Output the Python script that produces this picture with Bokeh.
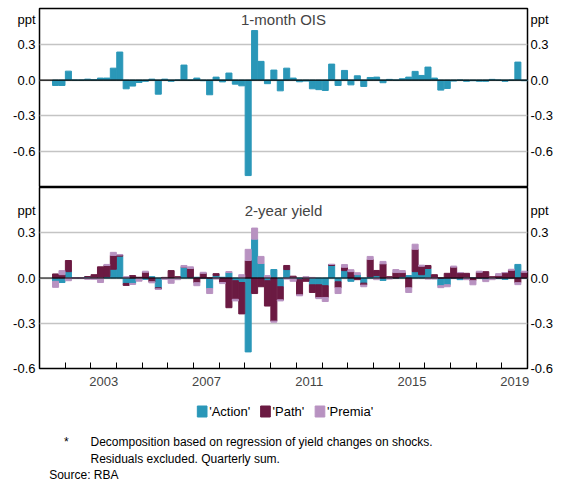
import numpy as np
from bokeh.plotting import figure
from bokeh.layouts import column
from bokeh.models import FixedTicker, Span, Label, Range1d, LinearAxis
from bokeh.core.properties import value
from bokeh.embed import file_html
from bokeh.resources import INLINE

# Quarterly data, 2001Q3 .. 2019Q4
quarters = [2001.625 + 0.25 * i for i in range(74)]

ois_action = [-0.045, -0.045, 0.075, 0, 0, 0.008, 0.003, 0.017, 0.017, 0.1,
              0.235, -0.073, -0.05, -0.02, -0.01, 0.008, -0.118, 0.008, -0.01, 0,
              0.126, 0, 0.017, -0.005, -0.123, 0.025, -0.015, 0.059, -0.034, -0.048,
              -0.8, 0.415, 0.157, -0.03, 0.084, -0.09, 0.1, 0.017, -0.014, -0.008,
              -0.073, -0.08, -0.087, 0.134, -0.045, 0.081, -0.04, 0.036, -0.053, 0.022,
              0.025, -0.022, 0.006, 0, 0.011, 0.025, 0.073, 0.039, 0.109, 0.017,
              -0.084, -0.07, -0.008, 0, -0.01, -0.005, -0.01, -0.01, 0.006, 0,
              -0.01, 0, 0.151, -0.005]

y2_action = [-0.022, -0.03, 0.042, 0, 0, 0.009, 0, 0, 0.009, 0.058,
             0.145, -0.036, -0.036, -0.005, -0.009, 0.009, -0.065, 0, -0.005, 0,
             0.072, 0.005, 0.005, 0, -0.07, 0.016, 0.005, 0.036, -0.018, -0.03,
             -0.49, 0.257, 0.096, -0.018, 0.056, -0.058, 0.056, 0.003, -0.011, 0,
             -0.045, -0.045, -0.051, 0.083, -0.025, 0.049, -0.022, 0.022, -0.034, 0.009,
             0.016, -0.016, 0, 0, 0.009, 0.016, 0.042, 0.022, 0.063, 0,
             -0.051, -0.045, 0, -0.011, 0, 0, 0, -0.011, 0, -0.004,
             -0.009, 0, 0.09, 0]
y2_path = [0.027, 0.022, 0.074, 0, 0, 0, 0.022, 0.074, 0.074, 0.092,
           0.007, -0.013, 0.016, 0.005, 0.038, -0.025, -0.007, 0.004, 0.049, 0.009,
           0, 0.058, -0.031, 0.031, 0, 0.013, -0.03, -0.197, -0.123, -0.208,
           0.116, -0.103, -0.058, -0.168, -0.286, -0.087, 0.027, 0.009, -0.1, -0.022,
           -0.051, -0.085, -0.078, 0.007, -0.04, 0.022, 0.042, -0.011, -0.013, 0.114,
           0.034, 0.094, 0.009, 0.036, 0.027, -0.065, 0.148, 0.056, 0.02, 0.022,
           0, 0.031, 0.072, 0.036, 0.031, -0.018, 0.038, 0.042, 0.009, 0.016,
           0.036, 0.051, -0.031, 0.038]
y2_premia = [-0.04, 0.027, -0.018, 0, 0, -0.009, -0.009, -0.03, 0.007, 0.02,
             0.004, 0.009, -0.007, -0.016, 0.007, -0.007, -0.004, -0.009, -0.03, -0.011,
             0.011, 0.011, -0.02, 0.007, -0.033, -0.007, -0.007, 0.007, -0.011, 0.022,
             0.074, 0.074, 0.047, 0.016, -0.007, -0.007, -0.007, -0.022, -0.007, 0.009,
             0.004, -0.007, -0.027, 0, -0.038, 0.018, 0.013, 0.013, -0.011, 0.02,
             -0.011, 0.016, -0.007, 0.02, 0.013, -0.031, 0.034, 0.007, -0.007, -0.007,
             -0.013, -0.013, 0.007, 0, -0.011, -0.027, 0.007, -0.013, -0.011, 0.013,
             0, 0.007, -0.013, 0.007]

year_labels = ["2003", "2007", "2011", "2015", "2019"]
label_pos = [2003.5, 2007.5, 2011.5, 2015.5, 2019.5]
year_ticks = list(range(2002, 2020))

C_ACT, C_PATH, C_PREM = "#2a97b8", "#6b1a42", "#b892c1"
FONT = "Liberation Sans"
W = 555
BW = 0.235


def style(p, top_ppt):
    ticks = [-0.6, -0.3, 0.0, 0.3]
    p.ygrid.ticker = FixedTicker(ticks=ticks)
    p.ygrid.grid_line_color = "#c4c4c4"
    p.ygrid.grid_line_width = 1.3
    p.xgrid.visible = False
    p.outline_line_color = "black"
    p.outline_line_width = 1.5
    ov = {-0.6: "-0.6", -0.3: "-0.3", 0.0: "0.0", 0.3: "0.3", top_ppt: "ppt"}
    p.yaxis.ticker = FixedTicker(ticks=ticks + [top_ppt])
    p.extra_y_ranges = {"r": p.y_range}
    ax_r = LinearAxis(y_range_name="r", ticker=FixedTicker(ticks=ticks + [top_ppt]))
    p.add_layout(ax_r, "right")
    for ax in p.yaxis:
        ax.major_label_overrides = ov
        ax.major_tick_line_color = None
        ax.minor_tick_line_color = None
        ax.major_tick_out = 0
        ax.major_tick_in = 0
        ax.minor_tick_out = 0
        ax.minor_tick_in = 0
        ax.axis_line_color = None
        ax.axis_label_standoff = 0
        ax.major_label_text_font = FONT
        ax.major_label_text_font_size = "13px"
        ax.major_label_text_color = "black"
        ax.major_label_standoff = 4
    ax_r.major_label_standoff = 3


# Top panel
p1 = figure(width=W, height=187, output_backend="svg", toolbar_location=None,
            x_range=Range1d(2001, 2020), y_range=Range1d(-0.9, 0.6),
            min_border_left=39, min_border_right=0, min_border_top=8, min_border_bottom=0)
style(p1, 0.51)
p1.xaxis.visible = False
p1.vbar(x=quarters, top=ois_action, bottom=0, width=BW, color=C_ACT)
p1.add_layout(Span(location=0, dimension="width", line_color="black", line_width=1.2))
p1.add_layout(Label(x=2010.5, y=0.51, text="1-month OIS", text_align="center",
                    text_baseline="middle", text_font=FONT, text_font_size="15px"))


def stack(parts):
    arrs = [np.array(a, dtype=float) for a in parts]
    pos = np.zeros(len(arrs[0]))
    neg = np.zeros(len(arrs[0]))
    out = []
    for a in arrs:
        bottom = np.where(a >= 0, pos, neg)
        top = bottom + a
        pos = np.where(a >= 0, pos + a, pos)
        neg = np.where(a < 0, neg + a, neg)
        out.append((bottom, top))
    return out


p2 = figure(width=W, height=201, output_backend="svg", toolbar_location=None,
            x_range=p1.x_range, y_range=Range1d(-0.6, 0.6),
            min_border_left=39, min_border_right=0, min_border_top=0, min_border_bottom=2)
style(p2, 0.45)
for (b, t), c in zip(stack([y2_action, y2_path, y2_premia]), [C_ACT, C_PATH, C_PREM]):
    p2.vbar(x=quarters, top=t, bottom=b, width=BW, color=c)
p2.add_layout(Span(location=0, dimension="width", line_color="black", line_width=1.2))
p2.add_layout(Label(x=2010.5, y=0.45, text="2-year yield", text_align="center",
                    text_baseline="middle", text_font=FONT, text_font_size="15px"))
xa = p2.xaxis[0]
xa.ticker = FixedTicker(ticks=label_pos, minor_ticks=year_ticks)
xa.major_label_overrides = {k: v for k, v in zip(label_pos, year_labels)}
xa.major_tick_line_color = None
xa.major_tick_out = 0
xa.major_tick_in = 0
xa.minor_tick_line_color = "black"
xa.minor_tick_in = 6
xa.minor_tick_out = 0
xa.axis_line_color = None
xa.axis_label_standoff = 0
xa.major_label_text_font = FONT
xa.major_label_text_font_size = "13px"
xa.major_label_standoff = 8

# Legend + notes
p3 = figure(width=W, height=92, output_backend="svg", toolbar_location=None,
            x_range=Range1d(8, 8 + W), y_range=Range1d(92, 0),
            min_border=0)
p3.axis.visible = False
p3.grid.visible = False
p3.outline_line_color = None
leg_names = ["'Action'", "'Path'", "'Premia'"]
leg_x = [188, 260, 322]
p3.rect(x=[x + 5 for x in leg_x], y=[23] * 3, width=11, height=11,
        color=[C_ACT, C_PATH, C_PREM])
p3.text(x=[x + 13 for x in leg_x], y=[23] * 3, text=leg_names, text_font=value(FONT),
        text_font_size="13px", text_baseline="middle")
notes_x = [36, 66, 66, 19]
notes_y = [53, 53, 70, 86]
notes = ["*", "Decomposition based on regression of yield changes on shocks.",
         "Residuals excluded. Quarterly sum.", "Source:   RBA"]
p3.text(x=notes_x, y=notes_y, text=notes, text_font=value(FONT), text_font_size="12px",
        text_baseline="middle")

layout = column(p1, p2, p3, spacing=0)
open("out.html", "w").write(file_html(layout, INLINE))
